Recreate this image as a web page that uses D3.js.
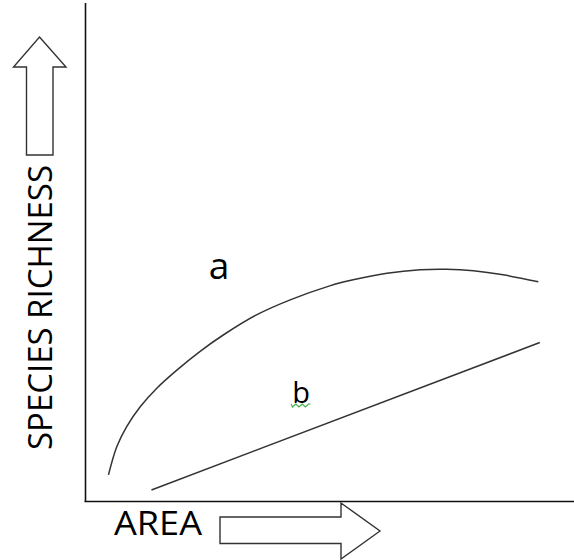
<!DOCTYPE html>
<html>
<head>
<meta charset="utf-8">
<script src="https://cdn.jsdelivr.net/npm/d3@7"></script>
<style>
  html, body { margin: 0; padding: 0; background: #fff; }
  svg { display: block; }
  text { font-family: "Open Sans", "Noto Sans", sans-serif; fill: #000; }
</style>
</head>
<body>
<svg id="chart" width="574" height="560"></svg>
<script>
// Conceptual species-area chart (arbitrary units 0-100)
const curveA_x = [4.7, 6.4, 8.4, 11.2, 14.6, 18.7, 23.4, 28.2, 35.0, 41.9, 50.0, 54.8, 61.7, 68.5, 73.9, 79.4, 85.5, 92.7];
const curveA_y = [5.3, 10.9, 14.9, 18.9, 22.6, 26.2, 29.9, 33.2, 37.2, 40.2, 43.0, 44.2, 45.5, 46.2, 46.3, 46.0, 45.2, 43.8];
const lineB_x = [13.5, 93.0];
const lineB_y = [2.3, 31.7];
const seriesLabels = ["a", "b"];
const xTitle = "AREA";
const yTitle = "SPECIES RICHNESS";

const svg = d3.select("#chart");
const W = 574, H = 560;
const left = 85.5, bottom = 501.5;

const x = d3.scaleLinear().domain([0, 100]).range([left, W]);
const y = d3.scaleLinear().domain([0, 100]).range([bottom, 0]);

// axes (plain lines, no ticks)
svg.append("line").attr("x1", left).attr("x2", left).attr("y1", 3).attr("y2", bottom)
  .attr("stroke", "#111").attr("stroke-width", 1.6);
svg.append("line").attr("x1", left - 1).attr("x2", W).attr("y1", bottom).attr("y2", bottom)
  .attr("stroke", "#111").attr("stroke-width", 1.6);

// curve a
const ptsA = curveA_x.map((v, i) => [v, curveA_y[i]]);
const line = d3.line().x(d => x(d[0])).y(d => y(d[1])).curve(d3.curveCatmullRom.alpha(0.5));
svg.append("path").datum(ptsA).attr("d", line)
  .attr("fill", "none").attr("stroke", "#333").attr("stroke-width", 1.5);

// line b
const ptsB = lineB_x.map((v, i) => [v, lineB_y[i]]);
svg.append("path").datum(ptsB).attr("d", d3.line().x(d => x(d[0])).y(d => y(d[1])))
  .attr("fill", "none").attr("stroke", "#333").attr("stroke-width", 1.5);

// labels
svg.append("text").attr("x", 219).attr("y", 279).attr("text-anchor", "middle")
  .attr("font-size", 37).text(seriesLabels[0]);
svg.append("text").attr("x", 301).attr("y", 402.5).attr("text-anchor", "middle")
  .attr("font-size", 29).text(seriesLabels[1]);
// green squiggle under b
const sq = d3.path();
sq.moveTo(291, 404);
for (let i = 0; i < 6; i++) {
  sq.lineTo(291 + (i + 0.5) * 3.2, i % 2 === 0 ? 407 : 404);
}
sq.lineTo(310.5, 404);
svg.append("path").attr("d", sq.toString()).attr("fill", "none")
  .attr("stroke", "#3fae49").attr("stroke-width", 1.1);

// axis titles
svg.append("text").attr("x", 114).attr("y", 535).attr("font-size", 32.5)
  .attr("textLength", 88).attr("lengthAdjust", "spacingAndGlyphs").text(xTitle);
svg.append("text").attr("transform", "translate(52,450) rotate(-90)")
  .attr("font-size", 32.5).attr("textLength", 285).attr("lengthAdjust", "spacingAndGlyphs")
  .text(yTitle);

// block arrows
const upArrow = [[39.5, 37], [66, 67], [53, 67], [53, 155], [26.5, 155], [26.5, 67], [13.5, 67]];
const rightArrow = [[380, 531], [341, 559], [341, 543.5], [220, 543.5], [220, 517], [341, 517], [341, 503]];
[upArrow, rightArrow].forEach(p => {
  svg.append("polygon").attr("points", p.map(d => d.join(",")).join(" "))
    .attr("fill", "#fff").attr("stroke", "#333").attr("stroke-width", 1.4)
    .attr("stroke-linejoin", "miter");
});
</script>
</body>
</html>
